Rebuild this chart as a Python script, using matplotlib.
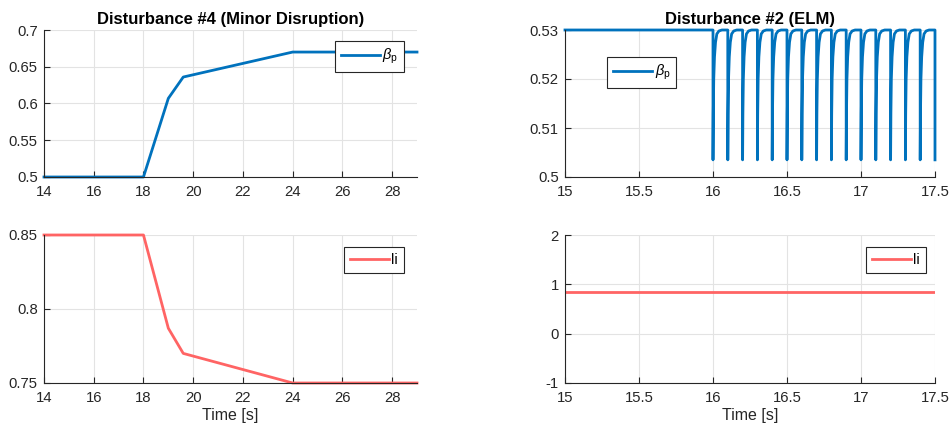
import numpy as np
import matplotlib.pyplot as plt

plt.rcParams['font.family'] = ['Liberation Sans', 'DejaVu Sans']
plt.rcParams['mathtext.fontset'] = 'custom'
plt.rcParams['mathtext.it'] = 'Liberation Sans:italic'
plt.rcParams['mathtext.rm'] = 'Liberation Sans'
plt.rcParams['axes.unicode_minus'] = False

BLUE = '#0072BD'
RED = '#FF6464'
TXT = '#262626'

# Disturbance #4 (minor disruption)
t4 = [14, 18, 19, 19.6, 24, 29]
bp4 = [0.5, 0.5, 0.607, 0.636, 0.67, 0.67]
li4 = [0.85, 0.85, 0.787, 0.770, 0.75, 0.75]

# Disturbance #2 (ELM)
elm_start = 15.0
elm_times = [16.0, 16.1, 16.2, 16.3, 16.4, 16.5, 16.6, 16.7,
             16.8, 16.9, 17.0, 17.1, 17.2, 17.3, 17.4, 17.5]
bp_top = 0.53
# one recovery cycle after a crash: offsets [s] and beta_p
cyc_dt = [0.0, 0.002, 0.005, 0.010, 0.017, 0.026, 0.040, 0.060, 0.0999]
cyc_bp = [0.5035, 0.513, 0.520, 0.5245, 0.5275, 0.5292, 0.5298, 0.53, 0.53]
li2_t = [15.0, 17.5]
li2 = [0.85, 0.85]

# build ELM trace from crash times and the cycle profile
te = [elm_start, elm_times[0]]
be = [bp_top, bp_top]
for k, tc in enumerate(elm_times):
    if k == len(elm_times) - 1:
        te.append(tc)
        be.append(cyc_bp[0])
        break
    for d, v in zip(cyc_dt, cyc_bp):
        te.append(tc + d)
        be.append(v)


def style(ax):
    ax.grid(True, color='#e3e3e3', lw=0.8)
    ax.set_axisbelow(True)
    for s in ['top', 'right']:
        ax.spines[s].set_visible(False)
    for s in ['left', 'bottom']:
        ax.spines[s].set_color(TXT)
        ax.spines[s].set_linewidth(0.8)
    ax.tick_params(direction='in', length=4, width=0.8, colors=TXT,
                   labelsize=10.7)
    ax.tick_params(axis='x', pad=5.5)
    ax.tick_params(axis='y', pad=4.5)


def legend(ax, loc, anchor):
    lg = ax.legend(loc=loc, bbox_to_anchor=anchor, fontsize=10.5,
                   handlelength=2.7, handletextpad=0.15, borderpad=0.4,
                   fancybox=False, framealpha=1, borderaxespad=0)
    lg.get_frame().set_edgecolor(TXT)
    lg.get_frame().set_linewidth(0.8)


fig = plt.figure(figsize=(9.5, 4.34), dpi=100)
W, H = 950, 434


def axes_px(x0, x1, y0, y1):
    return fig.add_axes([x0 / W, 1 - y1 / H, (x1 - x0) / W, (y1 - y0) / H])


ax1 = axes_px(44, 417, 30, 177)
ax2 = axes_px(565, 935, 30, 177)
ax3 = axes_px(44, 417, 235, 383)
ax4 = axes_px(565, 935, 235, 383)

ax1.plot(t4, bp4, color=BLUE, lw=2, label=r'$\beta_{\mathrm{p}}$', clip_on=False)
ax1.set_xlim(14, 29)
ax1.set_ylim(0.5, 0.7)
ax1.set_xticks(np.arange(14, 29, 2))
ax1.set_yticks([0.5, 0.55, 0.6, 0.65, 0.7])
ax1.set_yticklabels(['0.5', '0.55', '0.6', '0.65', '0.7'])
ax1.set_title('Disturbance #4 (Minor Disruption)', fontsize=12,
              fontweight='bold', color='black', pad=4)
style(ax1)
legend(ax1, 'upper right', (0.965, 0.925))

ax2.plot(te, be, color=BLUE, lw=2, label=r'$\beta_{\mathrm{p}}$', clip_on=False)
ax2.set_xlim(15, 17.5)
ax2.set_ylim(0.5, 0.53)
ax2.set_xticks([15, 15.5, 16, 16.5, 17, 17.5])
ax2.set_xticklabels(['15', '15.5', '16', '16.5', '17', '17.5'])
ax2.set_yticks([0.5, 0.51, 0.52, 0.53])
ax2.set_yticklabels(['0.5', '0.51', '0.52', '0.53'])
ax2.set_title('Disturbance #2 (ELM)', fontsize=12, fontweight='bold',
              color='black', pad=4)
style(ax2)
legend(ax2, 'upper left', (0.114, 0.816))

ax3.plot(t4, li4, color=RED, lw=2, label='li', clip_on=False)
ax3.set_xlim(14, 29)
ax3.set_ylim(0.75, 0.85)
ax3.set_xticks(np.arange(14, 29, 2))
ax3.set_yticks([0.75, 0.8, 0.85])
ax3.set_yticklabels(['0.75', '0.8', '0.85'])
ax3.set_xlabel('Time [s]', fontsize=11.5, color=TXT, labelpad=2.5)
style(ax3)
legend(ax3, 'upper right', (0.965, 0.92))

ax4.plot(li2_t, li2, color=RED, lw=2, label='li')
ax4.set_xlim(15, 17.5)
ax4.set_ylim(-1, 2)
ax4.set_xticks([15, 15.5, 16, 16.5, 17, 17.5])
ax4.set_xticklabels(['15', '15.5', '16', '16.5', '17', '17.5'])
ax4.set_yticks([-1, 0, 1, 2])
ax4.set_xlabel('Time [s]', fontsize=11.5, color=TXT, labelpad=2.5)
style(ax4)
legend(ax4, 'upper right', (0.975, 0.92))

fig.savefig('out.png', dpi=100)
